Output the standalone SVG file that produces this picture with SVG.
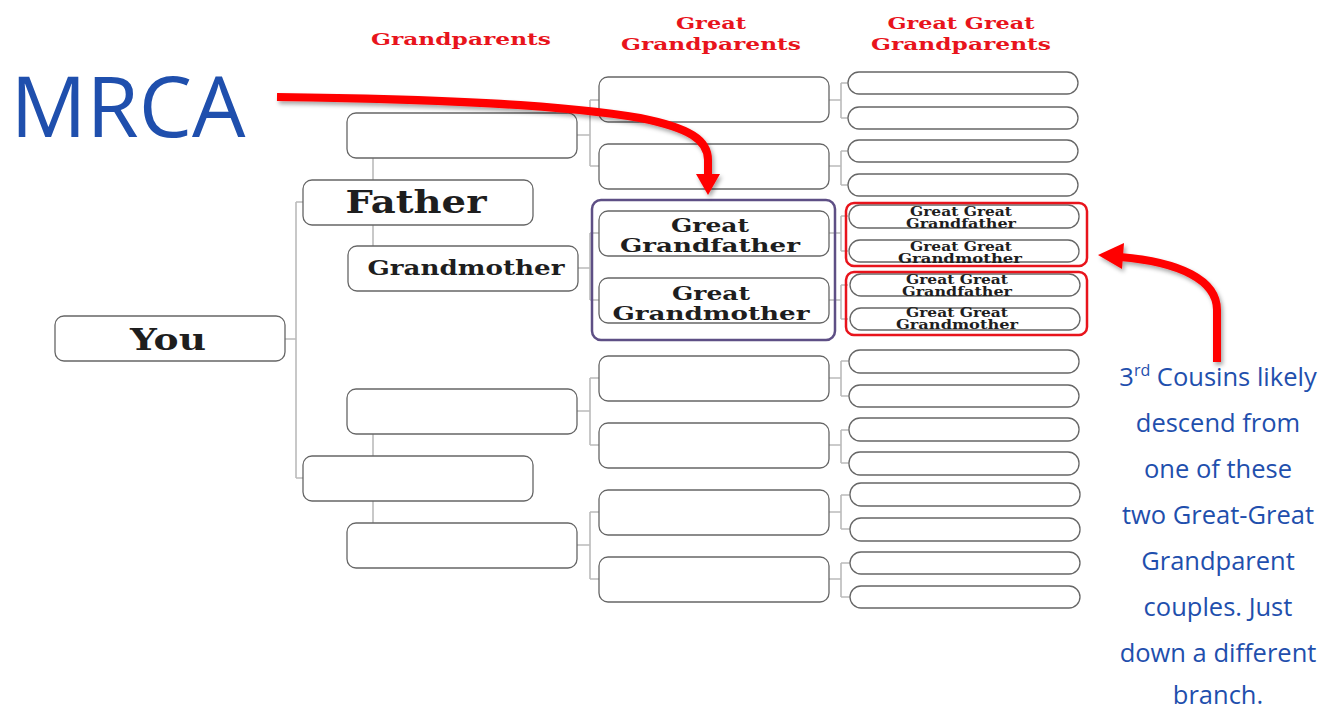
<svg xmlns="http://www.w3.org/2000/svg" width="1322" height="711" viewBox="0 0 1322 711">
<style>
.box{fill:#fff;stroke:#666;stroke-width:1.3}
.ln{fill:none;stroke:#bbb;stroke-width:1.6}
.slab{font-family:"DejaVu Serif",serif;font-weight:bold;fill:#1e1e1e;text-anchor:middle}
.hdr{font-family:"DejaVu Serif",serif;font-weight:bold;fill:#e8141c;text-anchor:middle;font-size:17px}
.blue{font-family:"Open Sans","Liberation Sans",sans-serif;fill:#1f4fad;text-anchor:middle}
.note{font-size:25.5px}
.arrow{fill:none;stroke:#ff0000;stroke-width:8}
</style>
<defs>
<filter id="sh" x="-10%" y="-10%" width="130%" height="130%">
<feDropShadow dx="2" dy="3" stdDeviation="2" flood-color="#000" flood-opacity="0.35"/>
</filter>
</defs>
<rect width="1322" height="711" fill="#fff"/>

<g id="headers">
<text class="hdr" x="461" y="45" textLength="180" lengthAdjust="spacingAndGlyphs">Grandparents</text>
<text class="hdr" x="711" y="29" textLength="70" lengthAdjust="spacingAndGlyphs">Great</text>
<text class="hdr" x="711" y="50" textLength="180" lengthAdjust="spacingAndGlyphs">Grandparents</text>
<text class="hdr" x="961" y="29" textLength="147" lengthAdjust="spacingAndGlyphs">Great Great</text>
<text class="hdr" x="961" y="50" textLength="180" lengthAdjust="spacingAndGlyphs">Grandparents</text>
</g>

<g id="connectors">
<path class="ln" d="M285,339 H296 M296,202 V478 M296,202 H303 M296,478 H303"/>
<path class="ln" d="M373,158 V180 M373,225 V246 M373,434 V456 M373,501 V523"/>
<path class="ln" d="M577,135 H590 M590,100 V166 M590,100 H599 M590,166 H599"/>
<path class="ln" d="M578,268 H590 M590,233 V300 M590,233 H599 M590,300 H599"/>
<path class="ln" d="M577,411 H590 M590,378 V445 M590,378 H599 M590,445 H599"/>
<path class="ln" d="M577,545 H590 M590,512 V579 M590,512 H599 M590,579 H599"/>
<path class="ln" d="M829,100 H841 M841,83 V118 M841,83 H848 M841,118 H848"/>
<path class="ln" d="M829,166 H841 M841,151 V185 M841,151 H848 M841,185 H848"/>
<path class="ln" d="M829,233 H841 M841,216 V251 M841,216 H848 M841,251 H848"/>
<path class="ln" d="M829,300 H841 M841,285 V319 M841,285 H848 M841,319 H848"/>
<path class="ln" d="M829,378 H841 M841,361 V396 M841,361 H849 M841,396 H849"/>
<path class="ln" d="M829,445 H841 M841,430 V463 M841,430 H849 M841,463 H849"/>
<path class="ln" d="M829,512 H841 M841,495 V529 M841,495 H850 M841,529 H850"/>
<path class="ln" d="M829,579 H841 M841,563 V597 M841,563 H850 M841,597 H850"/>
</g>

<g id="you"><rect class="box" x="55" y="316" width="230" height="45" rx="9"/>
<text class="slab" x="168" y="350" font-size="30" textLength="76" lengthAdjust="spacingAndGlyphs">You</text></g>

<g id="father"><rect class="box" x="303" y="180" width="230" height="45" rx="9"/>
<text class="slab" x="416" y="213" font-size="31" textLength="141" lengthAdjust="spacingAndGlyphs">Father</text></g>
<g id="mother"><rect class="box" x="303" y="456" width="230" height="45" rx="9"/></g>

<g id="grandfather-p"><rect class="box" x="347" y="113" width="230" height="45" rx="9"/></g>
<g id="grandmother-p"><rect class="box" x="348" y="246" width="230" height="45" rx="9"/>
<text class="slab" x="466" y="275" font-size="21" textLength="197" lengthAdjust="spacingAndGlyphs">Grandmother</text></g>
<g id="grandfather-m"><rect class="box" x="347" y="389" width="230" height="45" rx="9"/></g>
<g id="grandmother-m"><rect class="box" x="347" y="523" width="230" height="45" rx="9"/></g>

<g id="ggp1"><rect class="box" x="599" y="77" width="230" height="45" rx="9"/></g>
<g id="ggp2"><rect class="box" x="599" y="144" width="230" height="45" rx="9"/></g>
<g id="great-grandfather"><rect class="box" x="599" y="211" width="230" height="45" rx="9"/>
<text class="slab" x="710" y="232" font-size="18" textLength="78" lengthAdjust="spacingAndGlyphs">Great</text>
<text class="slab" x="710" y="252" font-size="18" textLength="180" lengthAdjust="spacingAndGlyphs">Grandfather</text></g>
<g id="great-grandmother"><rect class="box" x="599" y="278" width="230" height="45" rx="9"/>
<text class="slab" x="711" y="300" font-size="18" textLength="78" lengthAdjust="spacingAndGlyphs">Great</text>
<text class="slab" x="711" y="320" font-size="18" textLength="197" lengthAdjust="spacingAndGlyphs">Grandmother</text></g>
<g id="ggp5"><rect class="box" x="599" y="356" width="230" height="45" rx="9"/></g>
<g id="ggp6"><rect class="box" x="599" y="423" width="230" height="45" rx="9"/></g>
<g id="ggp7"><rect class="box" x="599" y="490" width="230" height="45" rx="9"/></g>
<g id="ggp8"><rect class="box" x="599" y="557" width="230" height="45" rx="9"/></g>

<g id="mrca-box"><rect x="592" y="200" width="243" height="140" rx="9" fill="none" stroke="#5e4f85" stroke-width="2.5"/></g>

<g id="gg1"><rect class="box" x="848" y="72" width="230" height="22" rx="11"/></g>
<g id="gg2"><rect class="box" x="848" y="107" width="230" height="22" rx="11"/></g>
<g id="gg3"><rect class="box" x="848" y="140" width="230" height="22" rx="11"/></g>
<g id="gg4"><rect class="box" x="848" y="174" width="230" height="22" rx="11"/></g>
<g id="gg5"><rect class="box" x="849" y="205" width="230" height="23" rx="11"/>
<text class="slab" x="961" y="216" font-size="12" textLength="102" lengthAdjust="spacingAndGlyphs">Great Great</text>
<text class="slab" x="961" y="228" font-size="12" textLength="110" lengthAdjust="spacingAndGlyphs">Grandfather</text></g>
<g id="gg6"><rect class="box" x="849" y="240" width="230" height="22" rx="11"/>
<text class="slab" x="961" y="251" font-size="12" textLength="102" lengthAdjust="spacingAndGlyphs">Great Great</text>
<text class="slab" x="960" y="263" font-size="12" textLength="124" lengthAdjust="spacingAndGlyphs">Grandmother</text></g>
<g id="gg7"><rect class="box" x="850" y="274" width="230" height="22" rx="11"/>
<text class="slab" x="957" y="284" font-size="12" textLength="102" lengthAdjust="spacingAndGlyphs">Great Great</text>
<text class="slab" x="957" y="296" font-size="12" textLength="110" lengthAdjust="spacingAndGlyphs">Grandfather</text></g>
<g id="gg8"><rect class="box" x="850" y="308" width="230" height="22" rx="11"/>
<text class="slab" x="957" y="317" font-size="12" textLength="102" lengthAdjust="spacingAndGlyphs">Great Great</text>
<text class="slab" x="957" y="329" font-size="12" textLength="122" lengthAdjust="spacingAndGlyphs">Grandmother</text></g>
<g id="gg9"><rect class="box" x="849" y="350" width="230" height="23" rx="11"/></g>
<g id="gg10"><rect class="box" x="849" y="385" width="230" height="22" rx="11"/></g>
<g id="gg11"><rect class="box" x="849" y="418" width="230" height="23" rx="11"/></g>
<g id="gg12"><rect class="box" x="849" y="452" width="230" height="23" rx="11"/></g>
<g id="gg13"><rect class="box" x="850" y="483" width="230" height="23" rx="11"/></g>
<g id="gg14"><rect class="box" x="850" y="518" width="230" height="23" rx="11"/></g>
<g id="gg15"><rect class="box" x="850" y="552" width="230" height="22" rx="11"/></g>
<g id="gg16"><rect class="box" x="850" y="586" width="230" height="22" rx="11"/></g>

<g id="gg-couple-boxes" fill="none" stroke="#e8141c" stroke-width="2.5">
<rect x="846" y="203" width="241" height="63" rx="8"/>
<rect x="846" y="272" width="241" height="63" rx="8"/>
</g>

<g id="mrca-label"><text class="blue" x="128" y="137" font-size="84" textLength="235" lengthAdjust="spacingAndGlyphs">MRCA</text></g>

<g id="note">
<text class="blue note" x="1218" y="386">3<tspan font-size="16" dy="-10">rd</tspan><tspan dy="10"> Cousins likely</tspan></text>
<text class="blue note" x="1218" y="432">descend from</text>
<text class="blue note" x="1218" y="478">one of these</text>
<text class="blue note" x="1218" y="524">two Great-Great</text>
<text class="blue note" x="1218" y="570">Grandparent</text>
<text class="blue note" x="1218" y="616">couples. Just</text>
<text class="blue note" x="1218" y="662">down a different</text>
<text class="blue note" x="1218" y="704">branch.</text>
</g>

<g id="arrows" filter="url(#sh)">
<path class="arrow" d="M277,97 C430,99 560,104 640,118 C690,128 708,140 708,160 V176"/>
<polygon points="696,174 720,174 708,195" fill="#ff0000"/>
<path class="arrow" d="M1217,362 V310 C1217,280 1180,262 1120,257"/>
<polygon points="1124,243 1122,269 1098,255" fill="#ff0000"/>
</g>
</svg>
